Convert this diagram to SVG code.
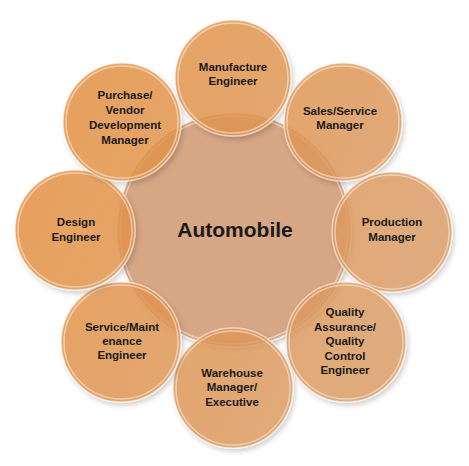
<svg xmlns="http://www.w3.org/2000/svg" width="469" height="466" viewBox="0 0 469 466">
  <defs>
    <linearGradient id="sat" gradientUnits="userSpaceOnUse" x1="20" y1="100" x2="450" y2="300">
      <stop offset="0" stop-color="#E8913F"/>
      <stop offset="1" stop-color="#DCA06C"/>
    </linearGradient>
    <filter id="sh" x="-20%" y="-20%" width="150%" height="150%">
      <feDropShadow dx="2" dy="3" stdDeviation="2.5" flood-color="#000" flood-opacity="0.22"/>
    </filter>
  </defs>
  <style>
    .sat { fill: url(#sat); fill-opacity: 0.82; stroke: #ffffff; stroke-opacity: 0.55; stroke-width: 1.5; filter: url(#sh); }
    .rim { fill: none; stroke: #ffffff; stroke-opacity: 0.45; stroke-width: 1.5; }
    .ctr { fill: #D6A685; stroke: #ffffff; stroke-opacity: 0.5; stroke-width: 1.5; filter: url(#sh); }
    text { font-family: "Liberation Sans", Arial, sans-serif; font-weight: bold; font-size: 11.5px; fill: #1a1a1a; text-anchor: middle; }
    .big { font-size: 21px; }
  </style>
  <g id="connectors"/>
  <g id="center">
    <circle class="ctr" cx="234" cy="230" r="117"/>
    <circle class="rim" cx="234" cy="230" r="114"/>
  </g>
  <g id="manufacture">
    <circle class="sat" cx="233" cy="78" r="58"/>
    <circle class="rim" cx="233" cy="78" r="55"/>
    <text x="233" y="71">Manufacture</text>
    <text x="233" y="85">Engineer</text>
  </g>
  <g id="sales">
    <circle class="sat" cx="343" cy="122" r="59"/>
    <circle class="rim" cx="343" cy="122" r="56"/>
    <text x="340" y="115">Sales/Service</text>
    <text x="340" y="129">Manager</text>
  </g>
  <g id="production">
    <circle class="sat" cx="392" cy="232" r="60"/>
    <circle class="rim" cx="392" cy="232" r="57"/>
    <text x="392" y="226">Production</text>
    <text x="392" y="241">Manager</text>
  </g>
  <g id="quality">
    <circle class="sat" cx="346" cy="342" r="60"/>
    <circle class="rim" cx="346" cy="342" r="57"/>
    <text x="345" y="316">Quality</text>
    <text x="345" y="331">Assurance/</text>
    <text x="345" y="345">Quality</text>
    <text x="345" y="360">Control</text>
    <text x="345" y="374">Engineer</text>
  </g>
  <g id="warehouse">
    <circle class="sat" cx="233" cy="388" r="60"/>
    <circle class="rim" cx="233" cy="388" r="57"/>
    <text x="232" y="377">Warehouse</text>
    <text x="232" y="391">Manager/</text>
    <text x="232" y="406">Executive</text>
  </g>
  <g id="service">
    <circle class="sat" cx="121" cy="342" r="60"/>
    <circle class="rim" cx="121" cy="342" r="57"/>
    <text x="122" y="331">Service/Maint</text>
    <text x="122" y="345">enance</text>
    <text x="122" y="359">Engineer</text>
  </g>
  <g id="design">
    <circle class="sat" cx="75" cy="230" r="60"/>
    <circle class="rim" cx="75" cy="230" r="57"/>
    <text x="76" y="226">Design</text>
    <text x="76" y="241">Engineer</text>
  </g>
  <g id="purchase">
    <circle class="sat" cx="122" cy="122" r="59"/>
    <circle class="rim" cx="122" cy="122" r="56"/>
    <text x="125" y="99">Purchase/</text>
    <text x="125" y="114">Vendor</text>
    <text x="125" y="129">Development</text>
    <text x="125" y="144">Manager</text>
  </g>
  <g id="center-label">
    <text class="big" x="235" y="237">Automobile</text>
  </g>
</svg>
